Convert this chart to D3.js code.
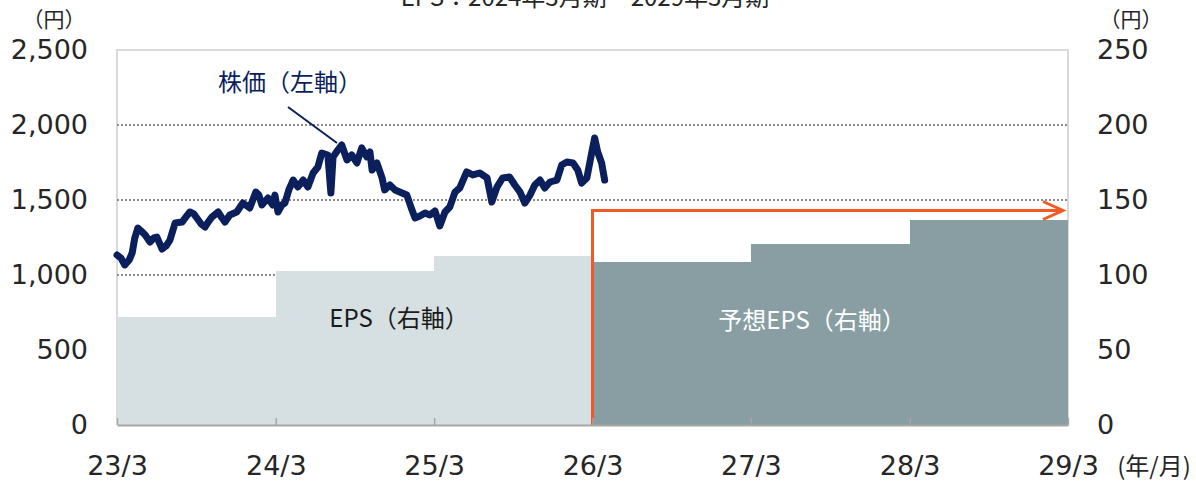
<!DOCTYPE html>
<html>
<head>
<meta charset="utf-8">
<script src="https://cdn.jsdelivr.net/npm/d3@7"></script>
<style>
  html, body { margin: 0; padding: 0; background: #fff; }
  svg { display: block; }
</style>
</head>
<body>
<svg id="chart"></svg>
<script>
// fiscal year ends (x axis ticks) and EPS (right axis, yen)
const yearEnds = ['2023-03-31', '2024-03-31', '2025-03-31', '2026-03-31', '2027-03-31', '2028-03-31', '2029-03-31'];
const epsActual = [72, 103, 113];      // FY 24/3, 25/3, 26/3
const epsForecast = [109, 121, 137];   // FY 27/3, 28/3, 29/3
const leftTicks = [0, 500, 1000, 1500, 2000, 2500];
const rightTicks = [0, 50, 100, 150, 200, 250];

// share price (left axis, yen)
const priceDates = [
  '2023-03-31','2023-04-09','2023-04-18','2023-04-28','2023-05-05','2023-05-11','2023-05-18','2023-05-28',
  '2023-06-04','2023-06-15','2023-06-24','2023-07-01','2023-07-13','2023-07-22','2023-07-31','2023-08-12',
  '2023-08-28','2023-09-06','2023-09-15','2023-09-24','2023-10-01','2023-10-11','2023-10-20','2023-10-27',
  '2023-11-05','2023-11-19','2023-11-28','2023-12-05','2023-12-16','2024-01-01','2024-01-15','2024-01-31',
  '2024-02-14','2024-02-21','2024-02-28','2024-03-13','2024-03-24','2024-03-29','2024-04-05','2024-04-14',
  '2024-04-21','2024-04-30','2024-05-10','2024-05-21','2024-06-02','2024-06-13','2024-06-25','2024-07-06',
  '2024-07-15','2024-07-29','2024-08-05','2024-08-10','2024-08-21','2024-08-30','2024-09-11','2024-09-22',
  '2024-10-04','2024-10-15','2024-10-27','2024-11-03','2024-11-08','2024-11-19','2024-12-01','2024-12-07',
  '2024-12-19','2024-12-31','2025-01-16','2025-01-27','2025-02-08','2025-02-15','2025-02-26','2025-03-10',
  '2025-03-21','2025-04-02','2025-04-13','2025-04-25','2025-05-06','2025-05-18','2025-05-29','2025-06-14',
  '2025-06-28','2025-07-14','2025-07-31','2025-08-11','2025-08-23','2025-09-05','2025-09-21','2025-10-03',
  '2025-10-15','2025-10-26','2025-11-07','2025-11-18','2025-11-30','2025-12-11','2025-12-23','2026-01-08',
  '2026-01-19','2026-01-31','2026-02-14','2026-02-25','2026-03-06','2026-03-18','2026-03-29','2026-04-05',
  '2026-04-12','2026-04-21','2026-04-28'
];
const priceValues = [
  1133, 1113, 1067, 1100, 1147, 1247, 1313, 1287,
  1267, 1220, 1247, 1253, 1173, 1193, 1233, 1347,
  1353, 1387, 1420, 1407, 1380, 1340, 1320, 1353,
  1387, 1420, 1380, 1353, 1400, 1420, 1480, 1447,
  1553, 1533, 1467, 1513, 1467, 1533, 1420, 1467,
  1480, 1567, 1633, 1587, 1633, 1587, 1680, 1720,
  1813, 1800, 1547, 1787, 1833, 1867, 1767, 1800,
  1747, 1847, 1787, 1820, 1700, 1747, 1647, 1567,
  1600, 1567, 1547, 1533, 1433, 1380, 1393, 1413,
  1400, 1427, 1327, 1420, 1453, 1553, 1580, 1687,
  1667, 1680, 1647, 1487, 1587, 1647, 1653, 1600,
  1553, 1480, 1533, 1600, 1633, 1580, 1620, 1633,
  1733, 1753, 1747, 1700, 1613, 1647, 1813, 1913,
  1820, 1747, 1633
];

const width = 1196;
const height = 482;
const marginTop = 50;
const marginRight = 128;
const marginBottom = 57;
const marginLeft = 117;

const parse = d3.timeParse('%Y-%m-%d');
const ends = yearEnds.map(parse);
const prices = priceDates.map((d, i) => ({ date: parse(d), value: priceValues[i] }));

const svg = d3.select('#chart')
  .attr('width', width)
  .attr('height', height);

const x = d3.scaleTime()
  .domain([ends[0], ends[ends.length - 1]])
  .range([marginLeft, width - marginRight]);

const yLeft = d3.scaleLinear()
  .domain([0, 2500])
  .range([height - marginBottom, marginTop]);

const yRight = d3.scaleLinear()
  .domain([0, 250])
  .range([height - marginBottom, marginTop]);

const x0 = x.range()[0], x1 = x.range()[1];
const yBase = yLeft(0), yTop = yLeft(2500);

// plot frame (left, top, right)
svg.append('path')
  .attr('d', `M${x0},${yBase}V${yTop}H${x1}V${yBase}`)
  .attr('fill', 'none')
  .attr('stroke', '#d9d9d9')
  .attr('stroke-width', 2);

// dotted gridlines
svg.append('g')
  .selectAll('line')
  .data(leftTicks.filter(d => d > 0 && d < 2500))
  .join('line')
  .attr('x1', x0)
  .attr('x2', x1)
  .attr('y1', d => yLeft(d))
  .attr('y2', d => yLeft(d))
  .attr('stroke', '#8c8c8c')
  .attr('stroke-width', 2)
  .attr('stroke-dasharray', '2,2');

// EPS bars
const actualBars = epsActual.map((v, i) => ({ from: ends[i], to: ends[i + 1], value: v }));
const forecastBars = epsForecast.map((v, i) => ({ from: ends[i + 3], to: ends[i + 4], value: v }));

svg.append('g')
  .attr('shape-rendering', 'crispEdges')
  .selectAll('rect')
  .data(actualBars)
  .join('rect')
  .attr('x', d => Math.round(x(d.from)))
  .attr('width', d => Math.round(x(d.to)) - Math.round(x(d.from)))
  .attr('y', d => yRight(d.value))
  .attr('height', d => yRight(0) - yRight(d.value))
  .attr('fill', '#d6dfe1');

svg.append('g')
  .attr('shape-rendering', 'crispEdges')
  .selectAll('rect')
  .data(forecastBars)
  .join('rect')
  .attr('x', d => Math.round(x(d.from)))
  .attr('width', d => Math.round(x(d.to)) - Math.round(x(d.from)))
  .attr('y', d => yRight(d.value))
  .attr('height', d => yRight(0) - yRight(d.value))
  .attr('fill', '#889ea3');

// orange forecast arrow
const arrowY = yRight(143);
const arrowStart = x(ends[3]);
const arrowEnd = x1 - 5;
svg.append('path')
  .attr('d', `M${arrowStart},${yBase}V${arrowY}H${arrowEnd}`)
  .attr('fill', 'none')
  .attr('stroke', '#f05a24')
  .attr('stroke-width', 3);
svg.append('path')
  .attr('d', `M${arrowEnd - 20},${arrowY - 9}L${arrowEnd},${arrowY}L${arrowEnd - 20},${arrowY + 9}`)
  .attr('fill', 'none')
  .attr('stroke', '#f05a24')
  .attr('stroke-width', 3);

// axes
const tickFont = "'DejaVu Sans', Verdana, sans-serif";

const leftAxis = svg.append('g')
  .attr('transform', `translate(${x0},0)`)
  .call(d3.axisLeft(yLeft).tickValues(leftTicks).tickFormat(d3.format(',')).tickSize(0).tickPadding(29));
leftAxis.select('.domain').remove();

const rightAxis = svg.append('g')
  .attr('transform', `translate(${x1},0)`)
  .call(d3.axisRight(yRight).tickValues(rightTicks).tickSize(0).tickPadding(29));
rightAxis.select('.domain').remove();

const bottomAxis = svg.append('g')
  .attr('transform', `translate(0,${yBase})`)
  .call(d3.axisBottom(x).tickValues(ends).tickFormat(d3.timeFormat('%y/%-m'))
    .tickSizeInner(-7).tickSizeOuter(0).tickPadding(31));
bottomAxis.select('.domain').attr('stroke', '#a6a6a6').attr('stroke-width', 2);
bottomAxis.selectAll('.tick line').attr('stroke', '#a6a6a6').attr('stroke-width', 1.5);

svg.selectAll('.tick text')
  .attr('font-family', tickFont)
  .attr('font-size', 27)
  .attr('fill', '#262626');

// share price line
const line = d3.line()
  .x(d => x(d.date))
  .y(d => yLeft(d.value));

svg.append('path')
  .datum(prices)
  .attr('d', line)
  .attr('fill', 'none')
  .attr('stroke', '#0b1f5c')
  .attr('stroke-width', 7)
  .attr('stroke-linejoin', 'round')
  .attr('stroke-linecap', 'round');

// labels
const jpFont = "'Noto Sans CJK JP', 'Noto Sans', sans-serif";

svg.append('text')
  .attr('x', 585).attr('y', 6)
  .attr('text-anchor', 'middle')
  .attr('font-family', jpFont).attr('font-size', 24).attr('fill', '#262626')
  .text('EPS：2024年3月期～2029年3月期');

svg.append('text')
  .attr('x', 54).attr('y', 27)
  .attr('text-anchor', 'middle')
  .attr('font-family', jpFont).attr('font-size', 21).attr('fill', '#262626')
  .text('（円）');

svg.append('text')
  .attr('x', 1131).attr('y', 27)
  .attr('text-anchor', 'middle')
  .attr('font-family', jpFont).attr('font-size', 21).attr('fill', '#262626')
  .text('（円）');

svg.append('text')
  .attr('x', 1154).attr('y', 475)
  .attr('text-anchor', 'middle')
  .attr('font-family', jpFont).attr('font-size', 24).attr('fill', '#262626')
  .text('(年/月)');

svg.append('text')
  .attr('x', 290).attr('y', 91)
  .attr('text-anchor', 'middle')
  .attr('font-family', jpFont).attr('font-size', 24).attr('fill', '#0b1f5c')
  .text('株価（左軸）');

svg.append('line')
  .attr('x1', 288).attr('y1', 107)
  .attr('x2', 337).attr('y2', 143)
  .attr('stroke', '#0b1f5c')
  .attr('stroke-width', 2);

svg.append('text')
  .attr('x', 399).attr('y', 327)
  .attr('text-anchor', 'middle')
  .attr('font-family', jpFont).attr('font-size', 24).attr('fill', '#1a1a1a')
  .text('EPS（右軸）');

svg.append('text')
  .attr('x', 812).attr('y', 329)
  .attr('text-anchor', 'middle')
  .attr('font-family', jpFont).attr('font-size', 24).attr('fill', '#ffffff')
  .text('予想EPS（右軸）');
</script>
</body>
</html>
